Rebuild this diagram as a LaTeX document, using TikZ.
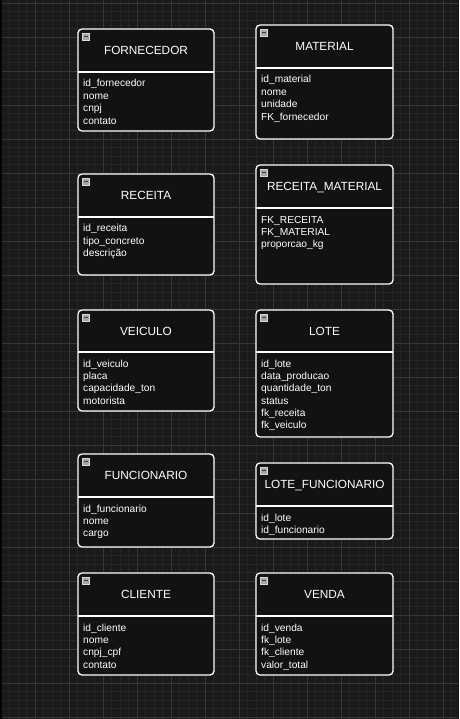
\documentclass[tikz,border=0pt]{standalone}
\usepackage{fontspec}
\setmainfont{Liberation Sans}
\definecolor{bgc}{HTML}{1A1A1A}
\definecolor{minorc}{HTML}{252525}
\definecolor{majorc}{HTML}{383838}
\definecolor{hdrc}{HTML}{121212}
\definecolor{iconc}{HTML}{A6A6A6}
\definecolor{iconline}{HTML}{3A3A3A}
\tikzset{
  minorgrid/.style={draw=minorc, line width=0.8pt},
  majorgrid/.style={draw=majorc, line width=0.9pt},
  hdrfill/.style={fill=hdrc},
  boxline/.style={draw=white, line width=1.3pt},
  titletext/.style={text=white, inner sep=0pt, font=\fontsize{11.8}{14}\selectfont},
  attrtext/.style={text=white, inner sep=0pt, font=\fontsize{10.2}{12}\selectfont},
  iconbox/.style={fill=iconc, draw=white!85!black, line width=0.5pt},
  iconmark/.style={draw=iconline, line width=1pt},
}
% #1 name, #2 x0, #3 x1, #4 top, #5 sep, #6 bottom, #7 title
\newcommand{\erbox}[7]{%
  \draw[boxline, hdrfill, rounded corners=4pt] (#2,#4) rectangle (#3,#6);
  \draw[boxline] (#2,#5) -- (#3,#5);
  \node[titletext, anchor=base] (#1) at ({(#2+#3)/2},{(#4+#5)/2+4.3}) {#7};
  \draw[iconbox] ({#2+4.3},{#4+4.3}) rectangle ({#2+11.3},{#4+11.3});
  \draw[iconmark] ({#2+5.6},{#4+7.8}) -- ({#2+10},{#4+7.8});
}
% #1 name, #2 x0, #3 sep, #4 list
\newcommand{\erattrs}[4]{%
  \foreach \a [count=\i] in {#4} {
    \node[attrtext, anchor=base west] (#1-\i) at ({#2+5},{#3+15+12.35*(\i-1)}) {\a};
  }
}
\begin{document}
\begin{tikzpicture}[x=1pt,y=-1pt]
\useasboundingbox (0,0) rectangle (459,719);
\fill[bgc] (0,0) rectangle (459,719);
% grid
\foreach \k in {0,...,54} {\draw[minorgrid] ({1+8.5*\k},0) -- ({1+8.5*\k},719);}
\foreach \k in {0,...,84} {\draw[minorgrid] (0,{3+8.5*\k}) -- (459,{3+8.5*\k});}
\foreach \k in {0,...,13} {\draw[majorgrid] ({1+34*\k},0) -- ({1+34*\k},719);}
\foreach \k in {0,...,21} {\draw[majorgrid] (0,{3+34*\k}) -- (459,{3+34*\k});}
\fill[black] (0,0) rectangle (1.5,719);

% left column
\erbox{fornecedor}{78}{214}{29}{72}{131}{FORNECEDOR}
\erattrs{fornecedor}{78}{72}{id\_fornecedor, nome, cnpj, contato}
\erbox{receita}{78}{214}{174}{217}{275}{RECEITA}
\erattrs{receita}{78}{217}{id\_receita, tipo\_concreto, descrição}
\erbox{veiculo}{78}{214}{310}{352}{411}{VEICULO}
\erattrs{veiculo}{78}{352}{id\_veiculo, placa, capacidade\_ton, motorista}
\erbox{funcionario}{78}{214}{454}{497}{547}{FUNCIONARIO}
\erattrs{funcionario}{78}{497}{id\_funcionario, nome, cargo}
\erbox{cliente}{78}{214}{573}{616}{675}{CLIENTE}
\erattrs{cliente}{78}{616}{id\_cliente, nome, cnpj\_cpf, contato}

% right column
\erbox{material}{256}{393}{25}{68}{139}{MATERIAL}
\erattrs{material}{256}{68}{id\_material, nome, unidade, FK\_fornecedor}
\erbox{recmat}{256}{393}{165}{208}{284}{RECEITA\_MATERIAL}
\erattrs{recmat}{256}{208}{FK\_RECEITA, FK\_MATERIAL, proporcao\_kg}
\erbox{lote}{256}{393}{310}{352}{437}{LOTE}
\erattrs{lote}{256}{352}{id\_lote, data\_producao, quantidade\_ton, status, fk\_receita, fk\_veiculo}
\erbox{lotefunc}{256}{393}{463}{506}{539}{LOTE\_FUNCIONARIO}
\erattrs{lotefunc}{256}{506}{id\_lote, id\_funcionario}
\erbox{venda}{256}{393}{573}{616}{675}{VENDA}
\erattrs{venda}{256}{616}{id\_venda, fk\_lote, fk\_cliente, valor\_total}
\end{tikzpicture}
\end{document}
